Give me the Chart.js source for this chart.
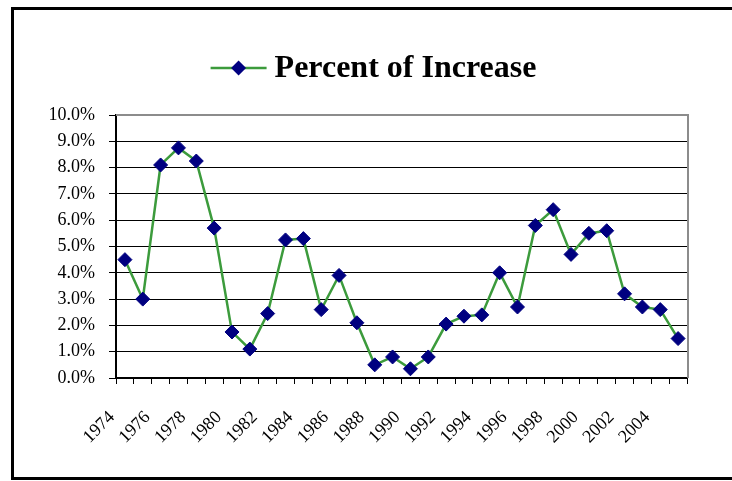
<!DOCTYPE html>
<html>
<head>
<meta charset="utf-8">
<script src="https://cdn.jsdelivr.net/npm/chart.js@4/dist/chart.umd.min.js"></script>
<style>
  html, body { margin: 0; padding: 0; background: #fff; }
  canvas { display: block; }
</style>
</head>
<body>
<canvas id="chart" width="732" height="481"></canvas>
<script>
// Annual percent of increase, 1974-2005
const years = [
  1974, 1975, 1976, 1977, 1978, 1979, 1980, 1981,
  1982, 1983, 1984, 1985, 1986, 1987, 1988, 1989,
  1990, 1991, 1992, 1993, 1994, 1995, 1996, 1997,
  1998, 1999, 2000, 2001, 2002, 2003, 2004, 2005
];
const percentIncrease = [
  4.5, 3.0, 8.1, 8.75, 8.25, 5.7, 1.75, 1.1,
  2.45, 5.25, 5.3, 2.6, 3.9, 2.1, 0.5, 0.8,
  0.35, 0.8, 2.05, 2.35, 2.4, 4.0, 2.7, 5.8,
  6.4, 4.7, 5.5, 5.6, 3.2, 2.7, 2.6, 1.5
];
const seriesName = 'Percent of Increase';
const yMin = 0, yMax = 10, yStep = 1;

const LINE_GREEN = '#3c9b3c';
const MARKER_NAVY = '#000080';
const SERIF = "'Liberation Serif', 'Times New Roman', serif";

// Page frame, grey upper/right plot edges and the line-and-marker legend
const framePlugin = {
  id: 'frame',
  beforeDraw(chart) {
    const ctx = chart.ctx;
    ctx.save();
    ctx.fillStyle = '#ffffff';
    ctx.fillRect(0, 0, chart.width, chart.height);
    ctx.strokeStyle = '#000000';
    ctx.lineWidth = 3;
    ctx.beginPath();
    ctx.moveTo(chart.width + 5, 8.5);
    ctx.lineTo(12.5, 8.5);
    ctx.lineTo(12.5, 478.5);
    ctx.lineTo(chart.width + 5, 478.5);
    ctx.stroke();
    ctx.restore();
  },
  beforeDatasetsDraw(chart) {
    const {ctx, chartArea: a} = chart;
    ctx.save();
    ctx.strokeStyle = '#8c8c8c';
    ctx.lineWidth = 2;
    ctx.beginPath();
    ctx.moveTo(a.left, a.top);
    ctx.lineTo(a.right + 1, a.top);
    ctx.lineTo(a.right + 1, a.bottom);
    ctx.stroke();
    ctx.restore();
  },
  afterDraw(chart) {
    const ctx = chart.ctx;
    const ds = chart.data.datasets[0];
    const lineLen = 56, gap = 8, cy = 68;
    ctx.save();
    ctx.font = 'bold 32px ' + SERIF;
    const textW = ctx.measureText(ds.label).width;
    const x0 = 373.5 - (lineLen + gap + textW) / 2;
    ctx.strokeStyle = ds.borderColor;
    ctx.lineWidth = ds.borderWidth;
    ctx.beginPath();
    ctx.moveTo(x0, cy);
    ctx.lineTo(x0 + lineLen, cy);
    ctx.stroke();
    const mx = x0 + lineLen / 2, r = 7.5;
    ctx.fillStyle = ds.pointBackgroundColor;
    ctx.beginPath();
    ctx.moveTo(mx - r, cy); ctx.lineTo(mx, cy - r);
    ctx.lineTo(mx + r, cy); ctx.lineTo(mx, cy + r);
    ctx.closePath();
    ctx.fill();
    ctx.fillStyle = '#000';
    ctx.textBaseline = 'alphabetic';
    ctx.fillText(ds.label, x0 + lineLen + gap, 77);
    ctx.restore();
  }
};

new Chart(document.getElementById('chart'), {
  type: 'line',
  data: {
    labels: years,
    datasets: [{
      label: seriesName,
      data: percentIncrease,
      borderColor: LINE_GREEN,
      borderWidth: 2.5,
      tension: 0,
      pointStyle: 'rectRot',
      pointRadius: 7,
      pointBorderWidth: 1,
      pointBackgroundColor: MARKER_NAVY,
      pointBorderColor: MARKER_NAVY,
      fill: false
    }]
  },
  options: {
    responsive: false,
    animation: false,
    layout: { padding: { left: 23, right: 45, top: 115, bottom: 0 } },
    plugins: {
      tooltip: { enabled: false },
      legend: { display: false }
    },
    scales: {
      x: {
        type: 'category',
        offset: true,
        afterFit: (s) => { s.height = 103; },
        grid: {
          offset: true,
          drawOnChartArea: false,
          drawTicks: true,
          tickLength: 6,
          tickColor: '#000',
          tickWidth: 1
        },
        border: { display: true, color: '#000', width: 2 },
        ticks: {
          autoSkip: false,
          maxRotation: 45,
          minRotation: 45,
          padding: 23,
          labelOffset: -13,
          color: '#000',
          font: { family: SERIF, size: 18 },
          callback: function (value, index) {
            return index % 2 === 0 ? String(this.getLabelForValue(value)) : '';
          }
        }
      },
      y: {
        min: yMin,
        max: yMax,
        afterFit: (s) => { s.width = 93; },
        grid: {
          color: '#000',
          lineWidth: 1,
          drawTicks: true,
          tickLength: 7,
          tickColor: '#000'
        },
        border: { display: true, color: '#000', width: 2 },
        ticks: {
          stepSize: yStep,
          padding: 14,
          color: '#000',
          font: { family: SERIF, size: 18 },
          callback: (v) => v.toFixed(1) + '%'
        }
      }
    }
  },
  plugins: [framePlugin]
});
</script>
</body>
</html>
